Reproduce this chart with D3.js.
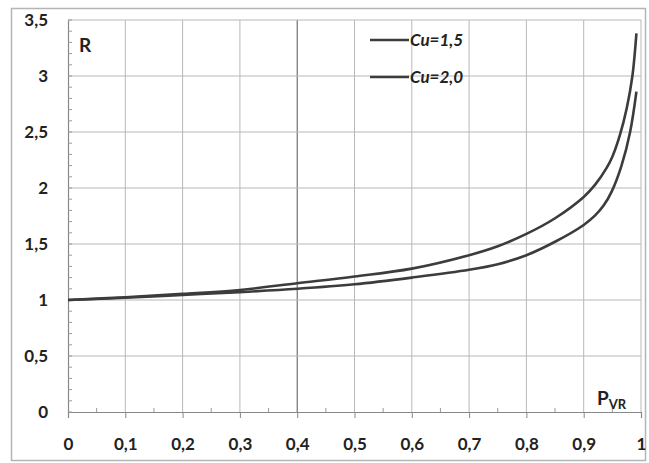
<!DOCTYPE html>
<html><head><meta charset="utf-8">
<script src="https://cdn.jsdelivr.net/npm/d3@7/dist/d3.min.js"></script>
<style>
body{margin:0;background:#fff;}
svg{display:block;font-family:Lato,"Open Sans",sans-serif;}
</style></head>
<body><svg id="c" width="649" height="463"></svg>
<script>
const pvr = [0, 0.1, 0.2, 0.3, 0.4, 0.5, 0.6, 0.7, 0.75, 0.8, 0.85, 0.9, 0.92, 0.94, 0.95, 0.963, 0.975, 0.985, 0.992];
const cu15 = [1.0, 1.025, 1.055, 1.09, 1.15, 1.21, 1.28, 1.40, 1.48, 1.59, 1.73, 1.92, 2.03, 2.18, 2.28, 2.47, 2.71, 3.0, 3.38];
const pvr2 = [0, 0.1, 0.2, 0.3, 0.4, 0.5, 0.6, 0.7, 0.75, 0.8, 0.85, 0.9, 0.92, 0.935, 0.949, 0.966, 0.981, 0.992];
const cu20 = [1.0, 1.02, 1.045, 1.07, 1.10, 1.14, 1.20, 1.27, 1.32, 1.40, 1.52, 1.67, 1.755, 1.845, 1.97, 2.2, 2.5, 2.86];
const seriesNames = ["Cu=1,5", "Cu=2,0"];
const xTicks = [0, 0.1, 0.2, 0.3, 0.4, 0.5, 0.6, 0.7, 0.8, 0.9, 1];
const yTicks = [0, 0.5, 1, 1.5, 2, 2.5, 3, 3.5];

const svg = d3.select("#c");
const L = 68, R = 641, T = 20, B = 412;
const x = d3.scaleLinear().domain([0, 1]).range([L, R]);
const y = d3.scaleLinear().domain([0, 3.5]).range([B, T]);
const fmt = v => String(v).replace(".", ",");

// outer frame
svg.append("rect").attr("x", 11.5).attr("y", 8.5).attr("width", 634).attr("height", 452)
  .attr("fill", "#fff").attr("stroke", "#b5b5b5").attr("stroke-width", 1.5);

// grid
svg.append("g").selectAll("line").data(xTicks.slice(1)).join("line")
  .attr("x1", d => x(d)).attr("x2", d => x(d)).attr("y1", T).attr("y2", B)
  .attr("stroke", d => d === 0.4 ? "#555" : "#b8b8b8").attr("stroke-width", 1);
svg.append("g").selectAll("line").data(yTicks.slice(1)).join("line")
  .attr("x1", L).attr("x2", R).attr("y1", d => y(d)).attr("y2", d => y(d))
  .attr("stroke", "#b8b8b8").attr("stroke-width", 1);

// axes
const xa = svg.append("g").attr("transform", `translate(0,${B})`)
  .call(d3.axisBottom(x).tickValues(xTicks).tickFormat(fmt).tickSize(6).tickPadding(20));
const ya = svg.append("g").attr("transform", `translate(${L},0)`)
  .call(d3.axisLeft(y).tickValues(yTicks).tickFormat(fmt).tickSize(0).tickPadding(20));
[xa, ya].forEach(a => {
  a.select(".domain").attr("stroke", "#888").attr("stroke-width", 1.2);
  a.selectAll(".tick line").attr("stroke", "#888");
  a.selectAll("text").attr("font-size", 17).attr("font-weight", "bold").attr("fill", "#222")
    .attr("font-family", "Lato, sans-serif");
});
// minor ticks
const yMinor = d3.range(0, 3.5001, 0.1);
svg.append("g").selectAll("line").data(yMinor).join("line")
  .attr("x1", L).attr("x2", L + 4).attr("y1", d => y(d)).attr("y2", d => y(d))
  .attr("stroke", "#999");
const xMinor = d3.range(0.05, 1, 0.1);
svg.append("g").selectAll("line").data(xMinor).join("line")
  .attr("x1", d => x(d)).attr("x2", d => x(d)).attr("y1", B).attr("y2", B - 4)
  .attr("stroke", "#999");

// lines
const line = d3.line().x(d => x(d[0])).y(d => y(d[1])).curve(d3.curveCatmullRom.alpha(0.5));
const s1 = pvr.map((p, i) => [p, cu15[i]]);
const s2 = pvr2.map((p, i) => [p, cu20[i]]);
[s1, s2].forEach(s => svg.append("path").datum(s).attr("d", line)
  .attr("fill", "none").attr("stroke", "#3c3c3c").attr("stroke-width", 2.6));

// legend
seriesNames.forEach((n, i) => {
  const ly = 40 + i * 37;
  svg.append("line").attr("x1", 370).attr("x2", 409).attr("y1", ly).attr("y2", ly)
    .attr("stroke", "#3c3c3c").attr("stroke-width", 2.6);
  svg.append("text").attr("x", 410).attr("y", ly + 6).text(n)
    .attr("font-size", 17).attr("font-weight", "bold").attr("font-style", "italic").attr("fill", "#222");
});

// axis titles
svg.append("text").attr("x", 79).attr("y", 52).text("R")
  .attr("font-size", 19).attr("font-weight", "bold").attr("fill", "#222");
const pt = svg.append("text").attr("x", 597).attr("y", 405)
  .attr("font-size", 19).attr("font-weight", "bold").attr("fill", "#222");
pt.append("tspan").text("P");
pt.append("tspan").text("VR").attr("font-size", 13).attr("dy", 4);
</script></body></html>
